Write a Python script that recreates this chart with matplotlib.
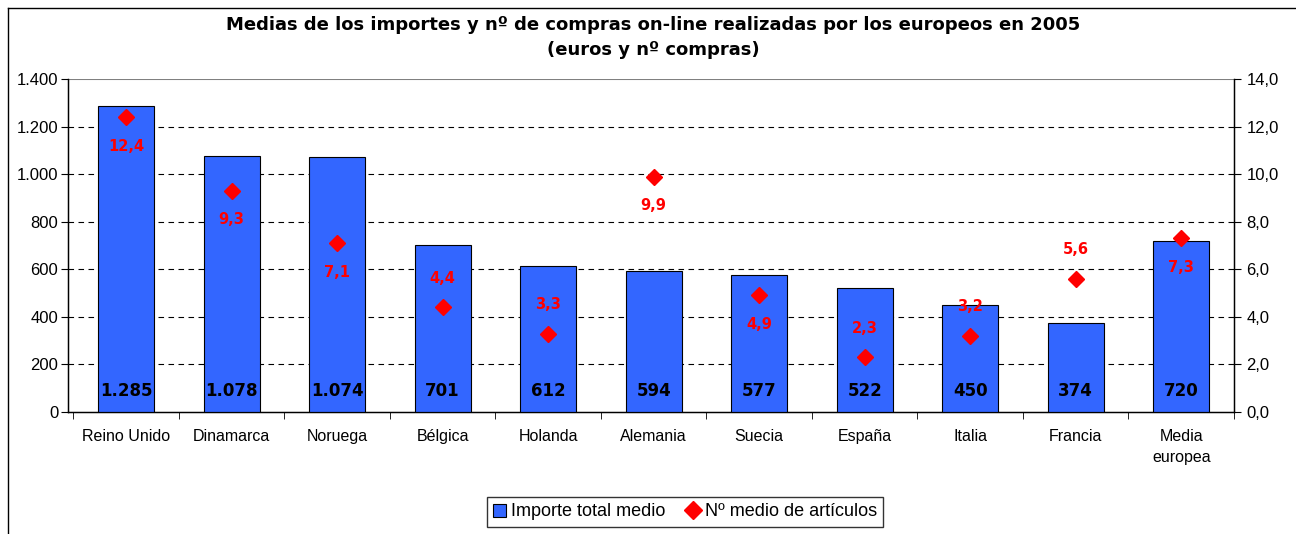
import numpy as np
import matplotlib.pyplot as plt
from matplotlib.lines import Line2D
from matplotlib.patches import Patch

plt.rcParams['font.family'] = ['Liberation Sans', 'DejaVu Sans']

#data
paises = ["Reino Unido", "Dinamarca", "Noruega", "Bélgica", "Holanda", "Alemania",
          "Suecia", "España", "Italia", "Francia", "Media\neuropea"]
importe = [1285, 1078, 1074, 701, 612, 594, 577, 522, 450, 374, 720]
n_articulos = [12.4, 9.3, 7.1, 4.4, 3.3, 9.9, 4.9, 2.3, 3.2, 5.6, 7.3]
# label above (+1) or below (-1) the marker
lado = [-1, -1, -1, 1, 1, -1, -1, 1, 1, 1, -1]

def miles(v):
    return "{:,}".format(int(v)).replace(",", ".")

fig = plt.figure(figsize=(12.96, 5.34), dpi=100)
ax = fig.add_axes([68/1296, 1-412/534, (1234-68)/1296, (412-79)/534])
x = np.arange(len(paises))

ax.bar(x, importe, width=0.53, color="#3366FF", edgecolor="black", linewidth=0.8, zorder=3)
ax.set_xlim(-0.55, len(paises)-0.5)
ax.set_ylim(0, 1400)
ax.set_yticks(range(0, 1401, 200))
ax.set_yticklabels([miles(v) for v in range(0, 1401, 200)], fontsize=12)
for v in range(200, 1400, 200):
    ax.axhline(v, color="black", linestyle=(0, (5, 4)), linewidth=0.8, zorder=1)
ax.axhline(1400, color="#808080", linewidth=1.5, zorder=1)

ax.set_xticks(x)
ax.set_xticklabels(paises, fontsize=11.5, linespacing=1.5)
ax.set_xticks(np.arange(-0.5, len(paises), 1), minor=True)
ax.tick_params(axis="x", which="major", length=0, pad=12)
ax.tick_params(axis="x", which="minor", length=5, direction="out")
ax.tick_params(axis="y", length=5, direction="out", pad=2)
ax.spines["top"].set_visible(False)
for s in ["left", "bottom", "right"]:
    ax.spines[s].set_linewidth(1)

for xi, v in zip(x, importe):
    ax.annotate(miles(v), (xi, 0), xytext=(0, 15), textcoords="offset points",
                ha="center", va="center", fontsize=12, fontweight="bold",
                family="DejaVu Sans", zorder=5)

ax2 = ax.twinx()
ax2.set_position(ax.get_position())
ax2.plot(x, n_articulos, linestyle="none", marker="D", markersize=8.5, color="#FF0000", zorder=4)
ax2.set_ylim(0, 14)
ax2.set_yticks(range(0, 15, 2))
ax2.set_yticklabels(["{:.1f}".format(v).replace(".", ",") for v in range(0, 15, 2)], fontsize=12)
ax2.tick_params(axis="y", length=5, direction="out", pad=4)
ax2.spines["top"].set_visible(False)
for xi, v, l in zip(x, n_articulos, lado):
    ax2.annotate("{:.1f}".format(v).replace(".", ","), (xi, v), xytext=(0, 21*l),
                 textcoords="offset points", ha="center", va="center",
                 fontsize=10.5, fontweight="bold", color="#FF0000", family="DejaVu Sans")

fig.text(0.504, 1-25/534, "Medias de los importes y nº de compras on-line realizadas por los europeos en 2005",
         ha="center", va="center", fontsize=13, fontweight="bold", family="DejaVu Sans")
fig.text(0.504, 1-50/534, "(euros y nº compras)", ha="center", va="center", fontsize=13,
         fontweight="bold", family="DejaVu Sans")

# outer frame
fig.add_artist(Line2D([8/1296, 8/1296], [0, 1-8/534], color="black", linewidth=1, transform=fig.transFigure))
fig.add_artist(Line2D([8/1296, 1], [1-8/534, 1-8/534], color="black", linewidth=1, transform=fig.transFigure))

handles = [Patch(facecolor="#3366FF", edgecolor="black", linewidth=0.8),
           Line2D([], [], linestyle="none", marker="D", markersize=9, color="#FF0000")]
leg = fig.legend(handles, ["Importe total medio", "Nº medio de artículos"], loc="center",
                 bbox_to_anchor=(685/1296, 1-512/534), ncol=2, fontsize=13, frameon=True,
                 fancybox=False, edgecolor="black", handlelength=0.7, handleheight=0.7,
                 handletextpad=0.3, columnspacing=1.2, borderpad=0.35, borderaxespad=0)
leg.get_frame().set_linewidth(1)

plt.savefig("out.png", dpi=100)
